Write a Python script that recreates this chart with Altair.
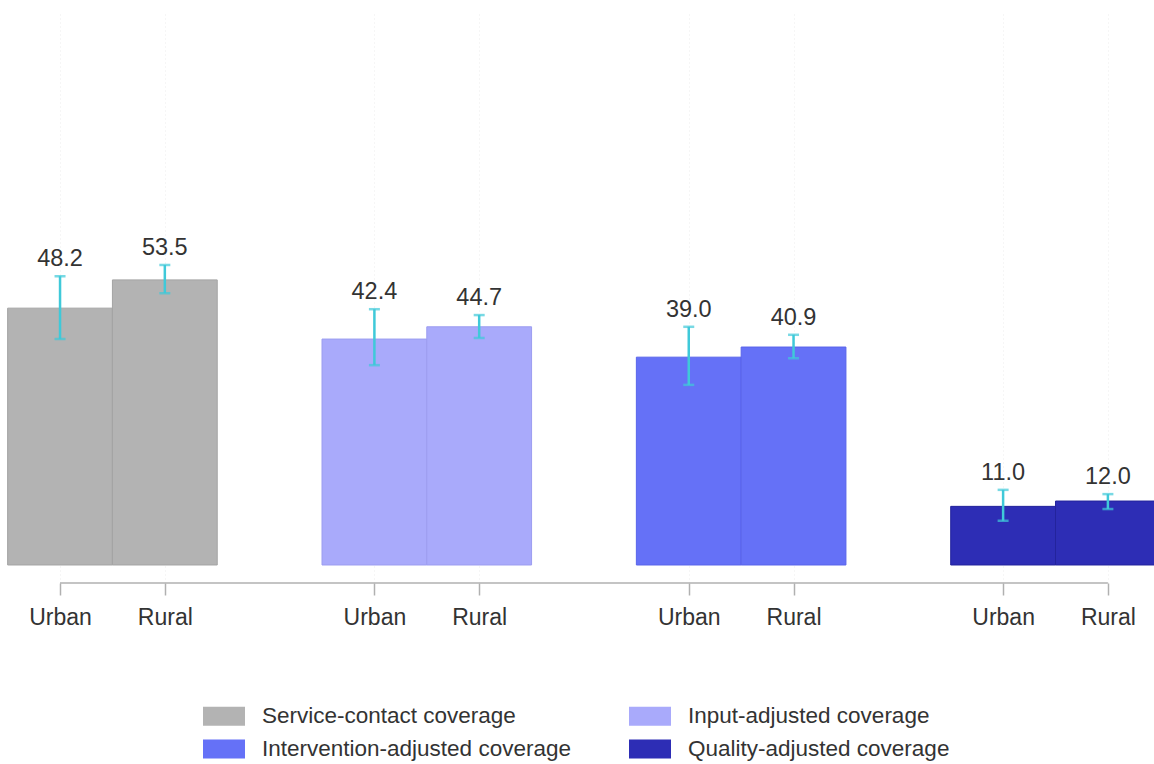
import altair as alt
import pandas as pd

groups = ["Service-contact coverage", "Input-adjusted coverage",
          "Intervention-adjusted coverage", "Quality-adjusted coverage"]
areas = ["Urban", "Rural"]
values = [48.2, 53.5, 42.4, 44.7, 39.0, 40.9, 11.0, 12.0]
lower = [42.4, 51.0, 37.5, 42.6, 33.8, 38.8, 8.3, 10.5]
upper = [54.2, 56.3, 48.0, 46.9, 44.7, 43.2, 14.1, 13.3]
colors = ["#b3b3b3", "#a9aafb", "#6571f7", "#2d2db5"]
edges = ["#a4a4a4", "#9c9df0", "#5964ea", "#23239c"]
legend_order = [groups[0], groups[2], groups[1], groups[3]]

rows = []
k = 0
for gi, g in enumerate(groups):
    for ai, a in enumerate(areas):
        rows.append({"group": g, "area": a, "pos": gi * 3 + ai,
                     "value": values[k], "lo": lower[k], "hi": upper[k],
                     "label": f"{values[k]:.1f}"})
        k += 1
df = pd.DataFrame(rows)

FONT = "Liberation Sans"
xscale = alt.Scale(domain=[-0.573, 10.44], nice=False, zero=False)
yscale = alt.Scale(domain=[-3.38, 103.4], nice=False, zero=False)

base = alt.Chart(df)

bars = base.transform_calculate(
    x0="datum.pos - 0.5", x1="datum.pos + 0.5", zero="0"
).mark_rect(clip=True, strokeWidth=1).encode(
    x=alt.X("x0:Q", scale=xscale,
            axis=alt.Axis(values=[0, 1, 3, 4, 6, 7, 9, 10],
                          labelExpr="datum.value % 3 == 0 ? 'Urban' : 'Rural'",
                          domain=False, ticks=True, tickSize=12, tickColor="#b0b0b0",
                          tickWidth=1.5, labelFontSize=23, labelColor="#333333",
                          labelFont=FONT, labelPadding=11,
                          grid=True, gridColor="#ececec", gridDash=[1, 3],
                          title=None)),
    x2="x1:Q",
    y=alt.Y("zero:Q", scale=yscale, axis=None),
    y2="value:Q",
    color=alt.Color("group:N", scale=alt.Scale(domain=groups, range=colors),
                    legend=alt.Legend(
                        title=None, orient="none", legendX=203, legendY=681,
                        values=legend_order,
                        columns=2, columnPadding=58, rowPadding=-15,
                        symbolType="M-1,-0.45L1,-0.45L1,0.45L-1,0.45Z",
                        symbolSize=1764, symbolStrokeWidth=0, symbolOpacity=1,
                        labelFontSize=22.5, labelFont=FONT,
                        labelColor="#333333", labelOffset=17, labelLimit=600)),
    stroke=alt.Stroke("group:N", scale=alt.Scale(domain=groups, range=edges),
                      legend=None),
)

domain_line = base.mark_rule(color="#b0b0b0", strokeWidth=1.5).encode(
    x=alt.X("min(pos):Q", scale=xscale),
    x2="max(pos):Q",
    y=alt.value(569),
)

err = base.mark_rule(color="#3fc9d9", strokeWidth=2.5).encode(
    x=alt.X("pos:Q", scale=xscale),
    y=alt.Y("lo:Q", scale=yscale),
    y2="hi:Q",
)
cap_hi = base.mark_tick(color="#3fc9d9", orient="horizontal", size=11, thickness=2.5).encode(
    x=alt.X("pos:Q", scale=xscale),
    y=alt.Y("hi:Q", scale=yscale),
)
cap_lo = base.mark_tick(color="#3fc9d9", orient="horizontal", size=11, thickness=2.5).encode(
    x=alt.X("pos:Q", scale=xscale),
    y=alt.Y("lo:Q", scale=yscale),
)
labels = base.mark_text(dy=-10, fontSize=23.5, font=FONT,
                        color="#333333", baseline="alphabetic").encode(
    x=alt.X("pos:Q", scale=xscale),
    y=alt.Y("hi:Q", scale=yscale),
    text="label:N",
)

chart = alt.layer(bars, domain_line, err, cap_hi, cap_lo, labels).properties(
    width=1154, height=569,
    padding={"top": 14, "left": 0, "right": 0, "bottom": 0},
    background="white",
).configure_view(stroke=None)

chart.save("out.html", embed_options={"renderer": "svg", "actions": False})
